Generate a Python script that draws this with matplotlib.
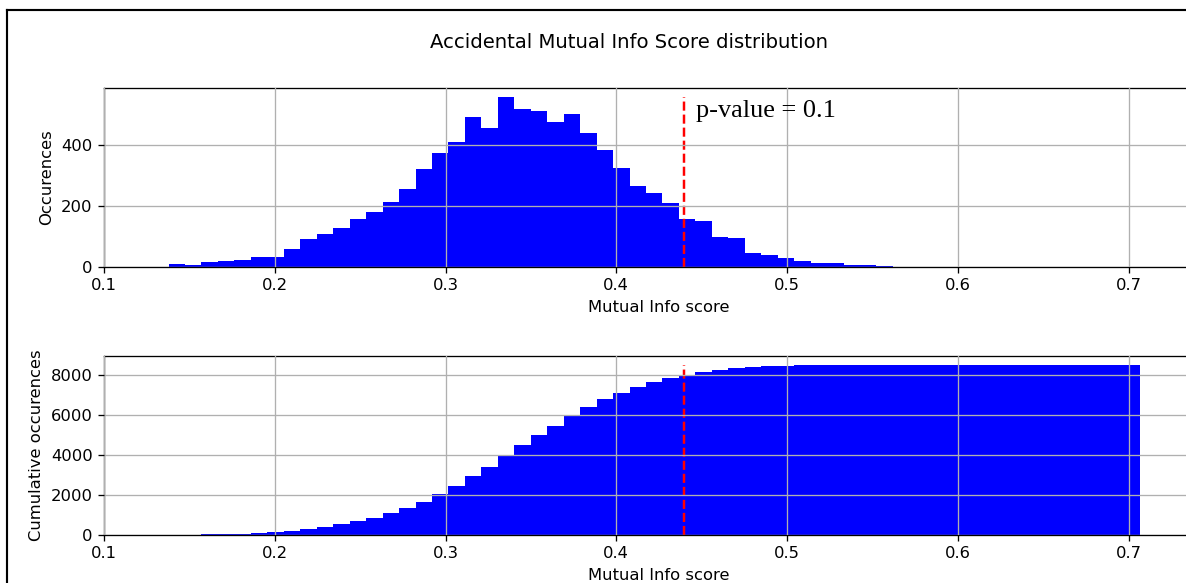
import numpy as np
import matplotlib
matplotlib.use('Agg')
import matplotlib.pyplot as plt
from matplotlib.lines import Line2D

# ─── Data ────────────────────────────────────────────────────────────────────
bin_lo = 0.1378
bin_hi = 0.7066
counts = [10, 6, 15, 20, 24, 32, 32, 59, 91, 110, 127, 159, 180, 214,
          257, 321, 374, 412, 493, 458, 561, 521, 514, 477, 505, 441, 386,
          326, 267, 242, 210, 158, 150, 98, 94, 45, 39, 28, 21, 14, 14, 6, 5,
          2, 1, 1, 1, 0, 1, 0, 1, 0, 0, 0, 0, 0, 0, 0, 1]
threshold = 0.4394
p_value_text = 'p-value = 0.1'

edges = np.linspace(bin_lo, bin_hi, len(counts) + 1)
centers = 0.5 * (edges[:-1] + edges[1:])

# ─── Figure ──────────────────────────────────────────────────────────────────
W, H, DPI = 1186, 583, 118
fig = plt.figure(figsize=(W / DPI, H / DPI), dpi=DPI)

# black frame of the original screenshot (only left and top edges visible)
fx, fy = 7 / W, 1 - 10 / H
fig.add_artist(Line2D([fx, fx], [-0.05, fy], transform=fig.transFigure, color='black',
                      lw=1.3, solid_capstyle='projecting'))
fig.add_artist(Line2D([fx, 1.05], [fy, fy], transform=fig.transFigure, color='black',
                      lw=1.3, solid_capstyle='projecting'))

fig.suptitle('Accidental Mutual Info Score distribution', x=629 / W, y=1 - 42 / H, va='center')

ax1 = fig.add_axes([104 / W, 1 - 267 / H, 1110 / W, 179 / H])
ax2 = fig.add_axes([104 / W, 1 - 535 / H, 1110 / W, 179 / H])

# top: plain histogram
ax1.hist(centers, bins=edges, weights=counts, color='b')
ax1.vlines(threshold, 0, max(counts), colors='red', linestyles='--', lw=1.5)
ax1.text(threshold + 0.007, 492, p_value_text, family='Liberation Serif', fontsize=16)
ax1.set_xlabel('Mutual Info score')
ax1.set_ylabel('Occurences')

# bottom: cumulative histogram
ax2.hist(centers, bins=edges, weights=counts, color='b', cumulative=True)
ax2.vlines(threshold, 0, sum(counts), colors='red', linestyles='--', lw=1.5)
ax2.set_xlabel('Mutual Info score')
ax2.set_ylabel('Cumulative occurences')

for ax in (ax1, ax2):
    ax.set_xlim(0.1, 0.75)
    ax.grid(True)
    ax.set_axisbelow(False)
    ax.spines['right'].set_visible(False)

fig.savefig('out.png', dpi=DPI)
